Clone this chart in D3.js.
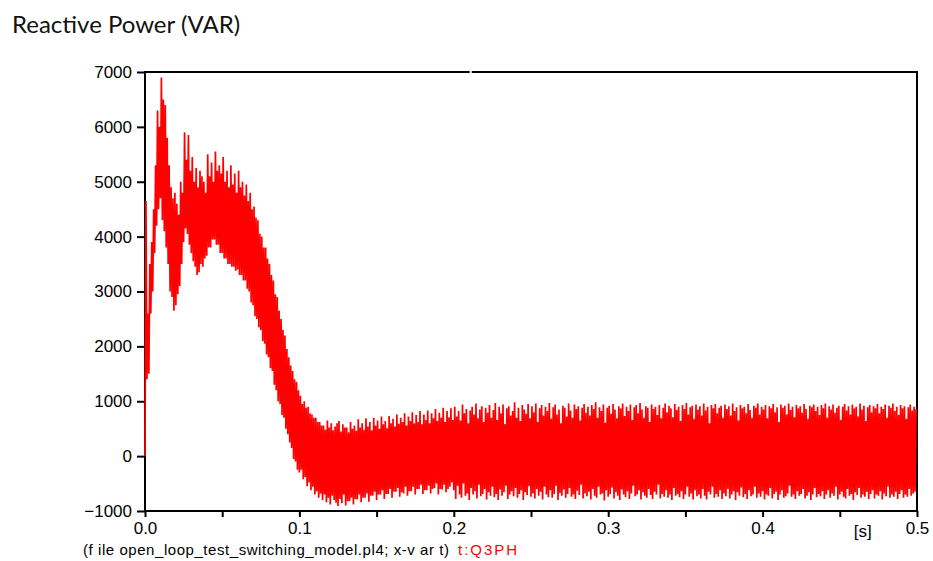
<!DOCTYPE html>
<html>
<head>
<meta charset="utf-8">
<script src="https://cdn.jsdelivr.net/npm/d3@7"></script>
<style>
  html, body { margin: 0; padding: 0; background: #ffffff; }
  svg { display: block; }
</style>
</head>
<body>
<svg id="chart" width="933" height="561"></svg>
<script>
// Q3PH reactive power, sampled every 1.25 ms: the peak and trough reached in each interval
const sampleStep = 0.00125;

const peaks = [
  // 0 - 0.1 s: start-up transient
  4650, 2600, 3500, 3900, 4500, 5300, 6300, 6000, 6900, 6500,
  6400, 5800, 5300, 4900, 4700, 4800, 4600, 4400, 5000, 4800,
  5900, 5400, 5850, 5200, 5450, 5000, 5250, 4900, 5200, 5100,
  5000, 4800, 5500, 5100, 5350, 5000, 5550, 5200, 5300, 5150,
  5450, 5000, 5200, 4900, 5300, 4950, 5150, 4800, 5200, 4900,
  5000, 4750, 4950, 4650, 4800, 4500, 4550, 4350, 4300, 4050,
  4000, 3800, 3800, 3600, 3500, 3300, 3200, 2950, 2900, 2650,
  2500, 2300, 2200, 1950, 1800, 1650, 1550, 1400, 1350, 1200,
  // 0.1 - 0.2 s: settling
  1100, 950, 1000, 880, 900, 780, 760, 700, 700, 620,
  620, 560, 560, 480, 650, 520, 600, 470, 540, 600,
  640, 450, 580, 520, 520, 430, 620, 500, 560, 460,
  670, 520, 600, 480, 690, 540, 620, 470, 700, 560,
  650, 500, 720, 580, 640, 510, 730, 600, 680, 540,
  760, 590, 700, 620, 780, 560, 720, 640, 800, 600,
  750, 620, 820, 580, 760, 660, 830, 600, 780, 690,
  860, 640, 790, 700, 880, 620, 820, 710, 870, 660,
  // 0.2 - 0.5 s: steady state
  900, 720, 820, 650, 940, 780, 860, 600, 830, 900,
  760, 960, 690, 850, 910, 620, 880, 790, 930, 700,
  840, 970, 660, 900, 780, 940, 580, 870, 910, 740,
  820, 980, 700, 880, 640, 930, 850, 770, 950, 690,
  910, 800, 960, 620, 870, 930, 740, 900, 820, 970,
  680, 890, 940, 760, 850, 600, 920, 880, 720, 960,
  830, 700, 940, 860, 910, 650, 880, 950, 790, 900,
  740, 930, 860, 980, 700, 890, 820, 940, 610, 880,
  920, 770, 950, 850, 690, 910, 870, 960, 730, 900,
  820, 940, 660, 890, 930, 780, 970, 850, 700, 910,
  880, 620, 940, 860, 900, 750, 930, 690, 880, 960,
  800, 920, 870, 710, 950, 840, 900, 640, 930, 860,
  970, 760, 890, 920, 680, 940, 850, 910, 740, 960,
  830, 900, 600, 930, 870, 950, 780, 880, 920, 700,
  940, 860, 910, 740, 960, 820, 890, 650, 930, 870,
  900, 780, 950, 840, 700, 920, 880, 960, 760, 900,
  850, 930, 690, 910, 870, 950, 800, 890, 620, 940,
  880, 920, 760, 960, 840, 900, 710, 930, 870, 910,
  790, 950, 860, 680, 920, 890, 940, 820, 900, 750,
  930, 870, 960, 700, 910, 850, 940, 790, 880, 920,
  660, 900, 950, 830, 910, 760, 940, 870, 900, 720,
  960, 850, 920, 640, 890, 930, 800, 910, 870, 950,
  780, 900, 860, 940, 700, 920, 880, 960, 820, 900,
  750, 930, 870, 910, 680, 890, 940, 830, 900, 860
];

const troughs = [
  // 0 - 0.1 s
  0, 1400, 1500, 2600, 3000, 3700, 4200, 4500, 4700, 4300,
  4100, 3800, 3500, 3000, 2900, 2650, 2750, 2950, 3100, 3500,
  3900, 4150, 4050, 3850, 3700, 3550, 3450, 3300, 3350, 3500,
  3450, 3600, 3650, 3800, 3800, 3950, 3950, 3850, 3850, 3700,
  3700, 3600, 3600, 3500, 3500, 3450, 3450, 3380, 3400, 3300,
  3300, 3200, 3200, 3050, 3000, 2800, 2750, 2550, 2500, 2350,
  2300, 2100, 2050, 1850, 1800, 1600, 1550, 1300, 1200, 1000,
  950, 750, 700, 500, 400, 250, 150, -50, -100, -250,
  // 0.1 - 0.2 s
  -300, -250, -420, -380, -550, -480, -620, -560, -700, -640,
  -760, -680, -800, -700, -840, -760, -880, -720, -800, -850,
  -910, -780, -860, -700, -900, -820, -820, -760, -880, -780,
  -790, -700, -840, -760, -760, -680, -830, -720, -720, -650,
  -800, -700, -700, -620, -780, -690, -690, -600, -760, -650,
  -650, -580, -740, -660, -680, -560, -720, -640, -640, -560,
  -700, -600, -600, -520, -690, -620, -620, -540, -680, -600,
  -580, -500, -700, -600, -610, -520, -660, -600, -560, -480,
  // 0.2 - 0.5 s
  -620, -780, -540, -700, -760, -500, -720, -680, -800, -580,
  -700, -640, -770, -520, -730, -690, -600, -790, -660, -720,
  -560, -750, -690, -800, -610, -720, -660, -540, -780, -700,
  -640, -730, -580, -760, -690, -620, -800, -660, -710, -550,
  -740, -680, -770, -600, -720, -650, -790, -560, -700, -750,
  -620, -760, -690, -540, -800, -670, -720, -610, -760, -690,
  -580, -740, -700, -780, -630, -710, -520, -770, -680, -730,
  -650, -790, -600, -720, -760, -560, -700, -680, -810, -620,
  -740, -690, -570, -770, -660, -720, -800, -610, -700, -750,
  -640, -780, -680, -540, -730, -700, -620, -790, -660, -720,
  -760, -600, -710, -780, -650, -700, -520, -770, -690, -740,
  -620, -760, -700, -800, -580, -720, -690, -750, -640, -780,
  -700, -560, -740, -680, -790, -620, -730, -700, -770, -600,
  -720, -790, -650, -700, -560, -760, -690, -740, -620, -780,
  -680, -730, -600, -770, -700, -640, -800, -660, -720, -570,
  -750, -690, -780, -620, -730, -700, -560, -760, -680, -740,
  -640, -790, -700, -720, -580, -770, -690, -650, -800, -700,
  -620, -760, -730, -680, -540, -740, -700, -780, -640, -720,
  -690, -600, -770, -720, -660, -800, -700, -580, -750, -690,
  -730, -640, -780, -700, -620, -760, -680, -720, -560, -790,
  -700, -650, -740, -770, -600, -720, -690, -800, -660, -710,
  -580, -760, -700, -740, -650, -780, -690, -620, -770, -700,
  -720, -640, -790, -680, -730, -560, -760, -700, -740, -650,
  -780, -690, -620, -760, -700, -740, -600, -720, -680, -650
];

const yTickValues = [-1000, 0, 1000, 2000, 3000, 4000, 5000, 6000, 7000];
const xTickValues = [0, 0.05, 0.1, 0.15, 0.2, 0.25, 0.3, 0.35, 0.4, 0.45, 0.5];
const xTickLabels = ["0.0", "", "0.1", "", "0.2", "", "0.3", "", "0.4", "", "0.5"];
const xUnitLabel = "[s]";
const titleText = "Reactive Power (VAR)";
const fileNote = "(f ile open_loop_test_switching_model.pl4; x-v ar t)";
const seriesName = "t:Q3PH";

const svg = d3.select("#chart");
const plot = { left: 145, right: 917, top: 72, bottom: 511 };

const x = d3.scaleLinear().domain([0, 0.5]).range([plot.left, plot.right]);
const y = d3.scaleLinear().domain([-1000, 7000]).range([plot.bottom, plot.top]);

// title
svg.append("text")
  .attr("x", 12).attr("y", 33)
  .attr("font-family", "Lato, 'Open Sans', sans-serif")
  .attr("font-size", 24)
  .attr("fill", "#111")
  .text(titleText);

const tickFont = "'Liberation Sans', Arial, sans-serif";

// frame
svg.append("rect")
  .attr("x", plot.left).attr("y", plot.top)
  .attr("width", plot.right - plot.left).attr("height", plot.bottom - plot.top)
  .attr("fill", "none").attr("stroke", "#000").attr("stroke-width", 2);
// small break in the top border
svg.append("rect")
  .attr("x", x(0.2103)).attr("y", plot.top - 2)
  .attr("width", 2).attr("height", 4)
  .attr("fill", "#fff");

// y axis
const yAxis = svg.append("g")
  .attr("transform", `translate(${plot.left},0)`)
  .call(d3.axisLeft(y).tickValues(yTickValues).tickSize(8).tickPadding(5).tickFormat(d3.format("d")));
yAxis.select(".domain").remove();
yAxis.selectAll(".tick line").attr("stroke", "#000").attr("stroke-width", 2);
yAxis.selectAll(".tick text").attr("font-family", tickFont).attr("font-size", 17).attr("fill", "#000");

// x axis
const xAxis = svg.append("g")
  .attr("transform", `translate(0,${plot.bottom})`)
  .call(d3.axisBottom(x).tickValues(xTickValues).tickSize(6).tickPadding(5)
    .tickFormat((d, i) => xTickLabels[i]));
xAxis.select(".domain").remove();
xAxis.selectAll(".tick line").attr("stroke", "#000").attr("stroke-width", 2);
xAxis.selectAll(".tick text").attr("font-family", tickFont).attr("font-size", 17).attr("fill", "#000");

svg.append("text")
  .attr("x", x(0.45) + 23).attr("y", plot.bottom + 26)
  .attr("text-anchor", "middle")
  .attr("font-family", tickFont).attr("font-size", 17).attr("fill", "#000")
  .text(xUnitLabel);

// signal: trough then peak within each sampling interval
const pts = [];
peaks.forEach((p, i) => {
  const t = i * sampleStep;
  pts.push([t, troughs[i]]);
  pts.push([t + sampleStep / 2, p]);
});

const line = d3.line().x(d => x(d[0])).y(d => y(d[1]));
svg.append("path")
  .datum(pts)
  .attr("d", line)
  .attr("fill", "none")
  .attr("stroke", "#ff0000")
  .attr("stroke-width", 1.7)
  .attr("stroke-linejoin", "miter")
  .attr("stroke-miterlimit", 2);

// footer note
const note = svg.append("text")
  .attr("y", 555)
  .attr("font-family", tickFont).attr("font-size", 15);
note.append("tspan").attr("x", 83).attr("fill", "#000")
  .attr("textLength", 366).attr("lengthAdjust", "spacing").text(fileNote);
note.append("tspan").attr("x", 458).attr("fill", "#ff0000")
  .attr("letter-spacing", 2).text(seriesName);
</script>
</body>
</html>
